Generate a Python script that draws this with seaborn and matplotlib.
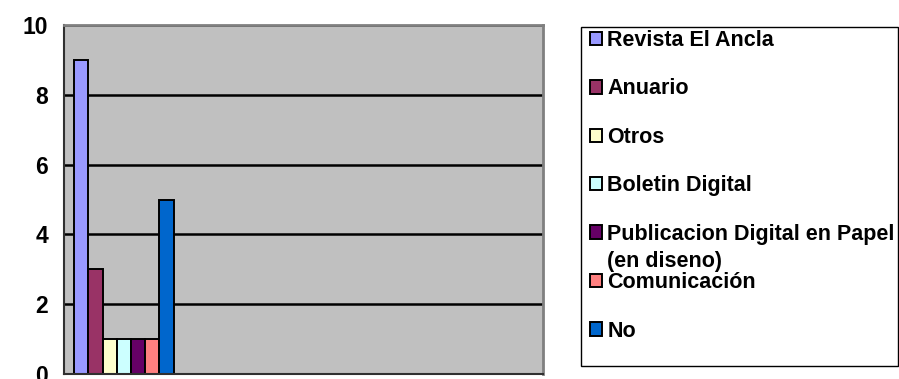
import matplotlib
matplotlib.use("Agg")
import pandas as pd
import matplotlib.pyplot as plt
import seaborn as sns
from matplotlib.patches import Patch, Rectangle

# data
categories = ["1", "2", "3", "4"]
series = ["Revista El Ancla", "Anuario", "Otros", "Boletin Digital",
          "Publicacion Digital en Papel\n(en diseno)", "Comunicación", "No"]
values = [9, 3, 1, 1, 1, 1, 5]
colors = ["#9999FF", "#993366", "#FFFFCC", "#CCFFFF", "#660066", "#FF8080", "#0066CC"]
y_ticks = [0, 2, 4, 6, 8, 10]

df = pd.DataFrame({"categoria": categories[0], "serie": series, "valor": values})

sns.set_style("white")
plt.rcParams["font.family"] = ["Liberation Sans", "DejaVu Sans"]
plt.rcParams["font.weight"] = "bold"
plt.rcParams["text.color"] = "black"
plt.rcParams["ytick.labelcolor"] = "black"

W, H = 899, 379
fig = plt.figure(figsize=(W / 100, H / 100), dpi=100)
ax = fig.add_axes([64 / W, 5 / H, (543 - 64) / W, (374 - 25) / H])
ax.set_facecolor("#C0C0C0")

sns.barplot(data=df, x="categoria", y="valor", hue="serie", order=categories,
            hue_order=series, palette=colors, width=0.83, edgecolor="black",
            linewidth=1.4, saturation=1, ax=ax, legend=False)

ax.set_xlim(-0.5, len(categories) - 0.5)
ax.set_xticks([i - 0.5 for i in range(len(categories) + 1)])
ax.set_xticklabels([])
ax.set_xlabel("")
ax.set_ylabel("")
ax.set_ylim(0, 10)
ax.set_yticks(y_ticks)
ax.tick_params(axis="y", direction="out", length=5, width=1, color="black",
               pad=6.5, labelsize=16.5, labelcolor="black")
ax.tick_params(axis="x", direction="out", length=4, width=1, color="black")
ax.yaxis.grid(True, color="black", linewidth=1.8)
ax.set_axisbelow(True)
for s in ["left", "bottom"]:
    ax.spines[s].set_color("#303030")
    ax.spines[s].set_linewidth(1.5)
for s in ["top", "right"]:
    ax.spines[s].set_color("#808080")
    ax.spines[s].set_linewidth(2)

# legend: uniform spacing like Excel, wrapped second line drawn in the gap
handles = [Patch(facecolor=c, edgecolor="black", linewidth=1.4) for c in colors]
labels = [s.split("\n")[0] for s in series]
leg = fig.legend(handles, labels, loc="upper left",
                 bbox_to_anchor=(590 / W, 1 - 30 / H), bbox_transform=fig.transFigure,
                 frameon=False, fontsize=15.5, borderpad=0, borderaxespad=0,
                 handlelength=0.58, handleheight=0.58, handletextpad=0.22,
                 labelspacing=1.275)
fig.canvas.draw()
inv = fig.transFigure.inverted()
for i, s in enumerate(series):
    if "\n" in s:
        bb = leg.texts[i].get_window_extent()
        x0, y0 = inv.transform((bb.x0, bb.y0 - 6))
        fig.text(x0, y0, s.split("\n")[1], va="top", ha="left",
                 fontsize=15.5, fontweight="bold", color="black")
fig.patches.append(Rectangle((581 / W, 1 - 366 / H), (898 - 581) / W, (366 - 27) / H,
                             transform=fig.transFigure, fill=False,
                             edgecolor="black", linewidth=1))

fig.savefig("out.png", dpi=100)
